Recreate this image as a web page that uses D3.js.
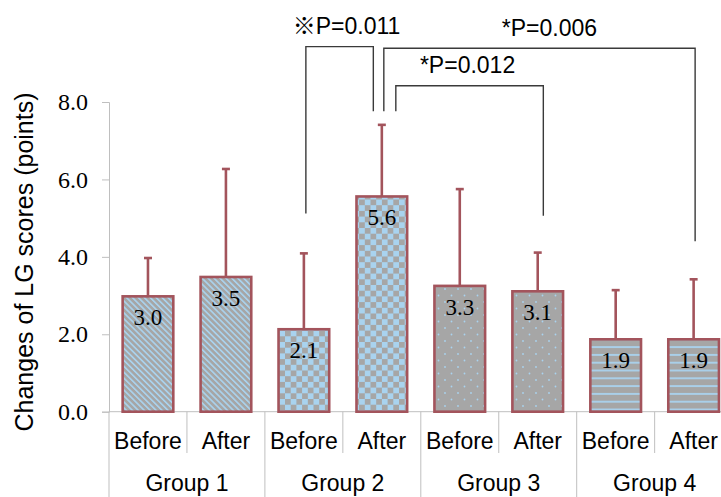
<!DOCTYPE html>
<html>
<head>
<meta charset="utf-8">
<script src="https://cdn.jsdelivr.net/npm/d3@7"></script>
<style>
  html, body { margin: 0; padding: 0; background: #fff; }
  svg { display: block; }
</style>
</head>
<body>
<div id="chart"></div>
<script>
// ============================================================
//  Data
// ============================================================

const groups = ['Group 1', 'Group 2', 'Group 3', 'Group 4'];
const phases = ['Before', 'After'];
const means = [2.98, 3.48, 2.13, 5.56, 3.25, 3.11, 1.87, 1.87];
const sds = [0.99, 2.79, 1.96, 1.85, 2.5, 1.0, 1.27, 1.55];
const yTicks = [0, 2, 4, 6, 8];

// significance brackets (heights in score units)
const bracketLabels = ['※P=0.011', '*P=0.006', '*P=0.012'];
const bracketFrom = [2, 3, 3];
const bracketTo = [3, 7, 5];
const bracketTop = [9.43, 9.39, 8.42];
const bracketFromEnd = [5.12, 7.76, 7.76];
const bracketToEnd = [7.76, 4.40, 5.06];

// ============================================================
//  Layout
// ============================================================

const W = 721, H = 497;
const x0 = 109, y0 = 411.7, yTop = 102;
const lineColor = '#bfbfbf';
const barStroke = '#a3545c';
const gray = '#a6a6a6', blue = '#a9d3ef';
const serif = '"Liberation Serif", "Times New Roman", serif';
const sans = 'Arial, "Liberation Sans", "Noto Sans CJK JP", sans-serif';

const bars = means.map((m, i) => ({
  key: i,
  group: Math.floor(i / 2),
  phase: phases[i % 2],
  mean: m,
  sd: sds[i],
}));

const svg = d3.select('#chart').append('svg').attr('width', W).attr('height', H);

const x = d3.scaleBand().domain(bars.map(d => d.key)).range([x0, x0 + 623.6])
  .paddingInner(0.35).paddingOuter(0.175);
const y = d3.scaleLinear().domain([0, 8]).range([y0, yTop]);
const step = x.step();

// ---- patterns ----
const defs = svg.append('defs');

const p1 = defs.append('pattern').attr('id', 'pat0').attr('patternUnits', 'userSpaceOnUse')
  .attr('width', 4.2).attr('height', 4.2).attr('patternTransform', 'rotate(-45)');
p1.append('rect').attr('width', 4.2).attr('height', 4.2).attr('fill', gray);
p1.append('rect').attr('width', 1.6).attr('height', 4.2).attr('fill', blue);

const p2 = defs.append('pattern').attr('id', 'pat1').attr('patternUnits', 'userSpaceOnUse')
  .attr('width', 11.4).attr('height', 11.4).attr('x', 0).attr('y', 0);
p2.append('rect').attr('width', 11.4).attr('height', 11.4).attr('fill', blue);
p2.append('rect').attr('width', 5.7).attr('height', 5.7).attr('fill', gray);
p2.append('rect').attr('x', 5.7).attr('y', 5.7).attr('width', 5.7).attr('height', 5.7).attr('fill', gray);

const p3 = defs.append('pattern').attr('id', 'pat2').attr('patternUnits', 'userSpaceOnUse')
  .attr('width', 13).attr('height', 13);
p3.append('rect').attr('width', 13).attr('height', 13).attr('fill', gray);
p3.append('circle').attr('cx', 3).attr('cy', 3).attr('r', 0.9).attr('fill', blue);
p3.append('circle').attr('cx', 9.5).attr('cy', 9.5).attr('r', 0.9).attr('fill', blue);

const p4 = defs.append('pattern').attr('id', 'pat3').attr('patternUnits', 'userSpaceOnUse')
  .attr('width', 8).attr('height', 7.8);
p4.append('rect').attr('width', 8).attr('height', 7.8).attr('fill', gray);
p4.append('rect').attr('y', 3).attr('width', 8).attr('height', 1.8).attr('fill', blue);

// ---- y axis ----
const yAxis = svg.append('g').attr('transform', `translate(${x0},0)`)
  .call(d3.axisLeft(y).tickValues(yTicks).tickFormat(d3.format('.1f')).tickSizeOuter(0).tickSize(7).tickPadding(14));
yAxis.select('.domain').attr('stroke', lineColor);
yAxis.selectAll('.tick line').attr('stroke', lineColor);
yAxis.selectAll('.tick text').attr('font-family', serif).attr('font-size', 24).attr('fill', '#000');

svg.append('text')
  .attr('transform', `translate(33,262) rotate(-90)`)
  .attr('text-anchor', 'middle')
  .attr('font-family', sans).attr('font-size', 25).attr('fill', '#000')
  .text('Changes of LG scores (points)');

// ---- x axis (two-level categories) ----
svg.append('line').attr('x1', x0).attr('x2', W).attr('y1', y0).attr('y2', y0)
  .attr('stroke', lineColor).attr('stroke-width', 1);

const bounds = d3.range(0, bars.length + 1);
svg.append('g').selectAll('line').data(bounds).join('line')
  .attr('x1', i => x0 + i * step).attr('x2', i => x0 + i * step)
  .attr('y1', y0).attr('y2', i => i % 2 === 0 ? H : 453)
  .attr('stroke', lineColor).attr('stroke-width', 1);

svg.append('g').selectAll('text').data(bars).join('text')
  .attr('x', d => x(d.key) + x.bandwidth() / 2).attr('y', 449)
  .attr('text-anchor', 'middle')
  .attr('font-family', sans).attr('font-size', 23).attr('fill', '#000')
  .text(d => d.phase);

svg.append('g').selectAll('text').data(groups).join('text')
  .attr('x', (g, i) => x0 + (i * 2 + 1) * step).attr('y', 491)
  .attr('text-anchor', 'middle')
  .attr('font-family', sans).attr('font-size', 23).attr('fill', '#000')
  .text(g => g);

// ---- error bars ----
const eb = svg.append('g').attr('stroke', barStroke).attr('stroke-width', 2.6);
eb.selectAll('line.v').data(bars).join('line').attr('class', 'v')
  .attr('x1', d => x(d.key) + x.bandwidth() / 2).attr('x2', d => x(d.key) + x.bandwidth() / 2)
  .attr('y1', d => y(d.mean)).attr('y2', d => y(d.mean + d.sd));
eb.selectAll('line.c').data(bars).join('line').attr('class', 'c')
  .attr('x1', d => x(d.key) + x.bandwidth() / 2 - 4).attr('x2', d => x(d.key) + x.bandwidth() / 2 + 4)
  .attr('y1', d => y(d.mean + d.sd)).attr('y2', d => y(d.mean + d.sd));

// ---- bars ----
svg.append('g').selectAll('rect').data(bars).join('rect')
  .attr('x', d => x(d.key)).attr('width', x.bandwidth())
  .attr('y', d => y(d.mean)).attr('height', d => y0 - y(d.mean))
  .attr('fill', d => `url(#pat${d.group})`)
  .attr('stroke', barStroke).attr('stroke-width', 2.6);

svg.append('g').selectAll('text').data(bars).join('text')
  .attr('x', d => x(d.key) + x.bandwidth() / 2).attr('y', d => y(d.mean) + 29)
  .attr('text-anchor', 'middle')
  .attr('font-family', serif).attr('font-size', 23).attr('fill', '#000')
  .text(d => d3.format('.1f')(d.mean));

// ---- significance brackets ----
const fromOff = [2, 2, 14], toOff = [-8.5, 1.5, 5.6], labelDx = [7, 10, -2];
const cx = i => x(i) + x.bandwidth() / 2;
const br = svg.append('g');
bracketLabels.forEach((lab, k) => {
  const xa = cx(bracketFrom[k]) + fromOff[k];
  const xb = cx(bracketTo[k]) + toOff[k];
  br.append('path')
    .attr('d', d3.line()([[xa, y(bracketFromEnd[k])], [xa, y(bracketTop[k])], [xb, y(bracketTop[k])], [xb, y(bracketToEnd[k])]]))
    .attr('fill', 'none').attr('stroke', '#3a3a3a').attr('stroke-width', 1.4);
  br.append('text')
    .attr('x', (xa + xb) / 2 + labelDx[k]).attr('y', y(bracketTop[k]) - 12.5)
    .attr('text-anchor', 'middle')
    .attr('font-family', sans).attr('font-size', 23).attr('fill', '#000')
    .text(lab);
});
</script>
</body>
</html>
